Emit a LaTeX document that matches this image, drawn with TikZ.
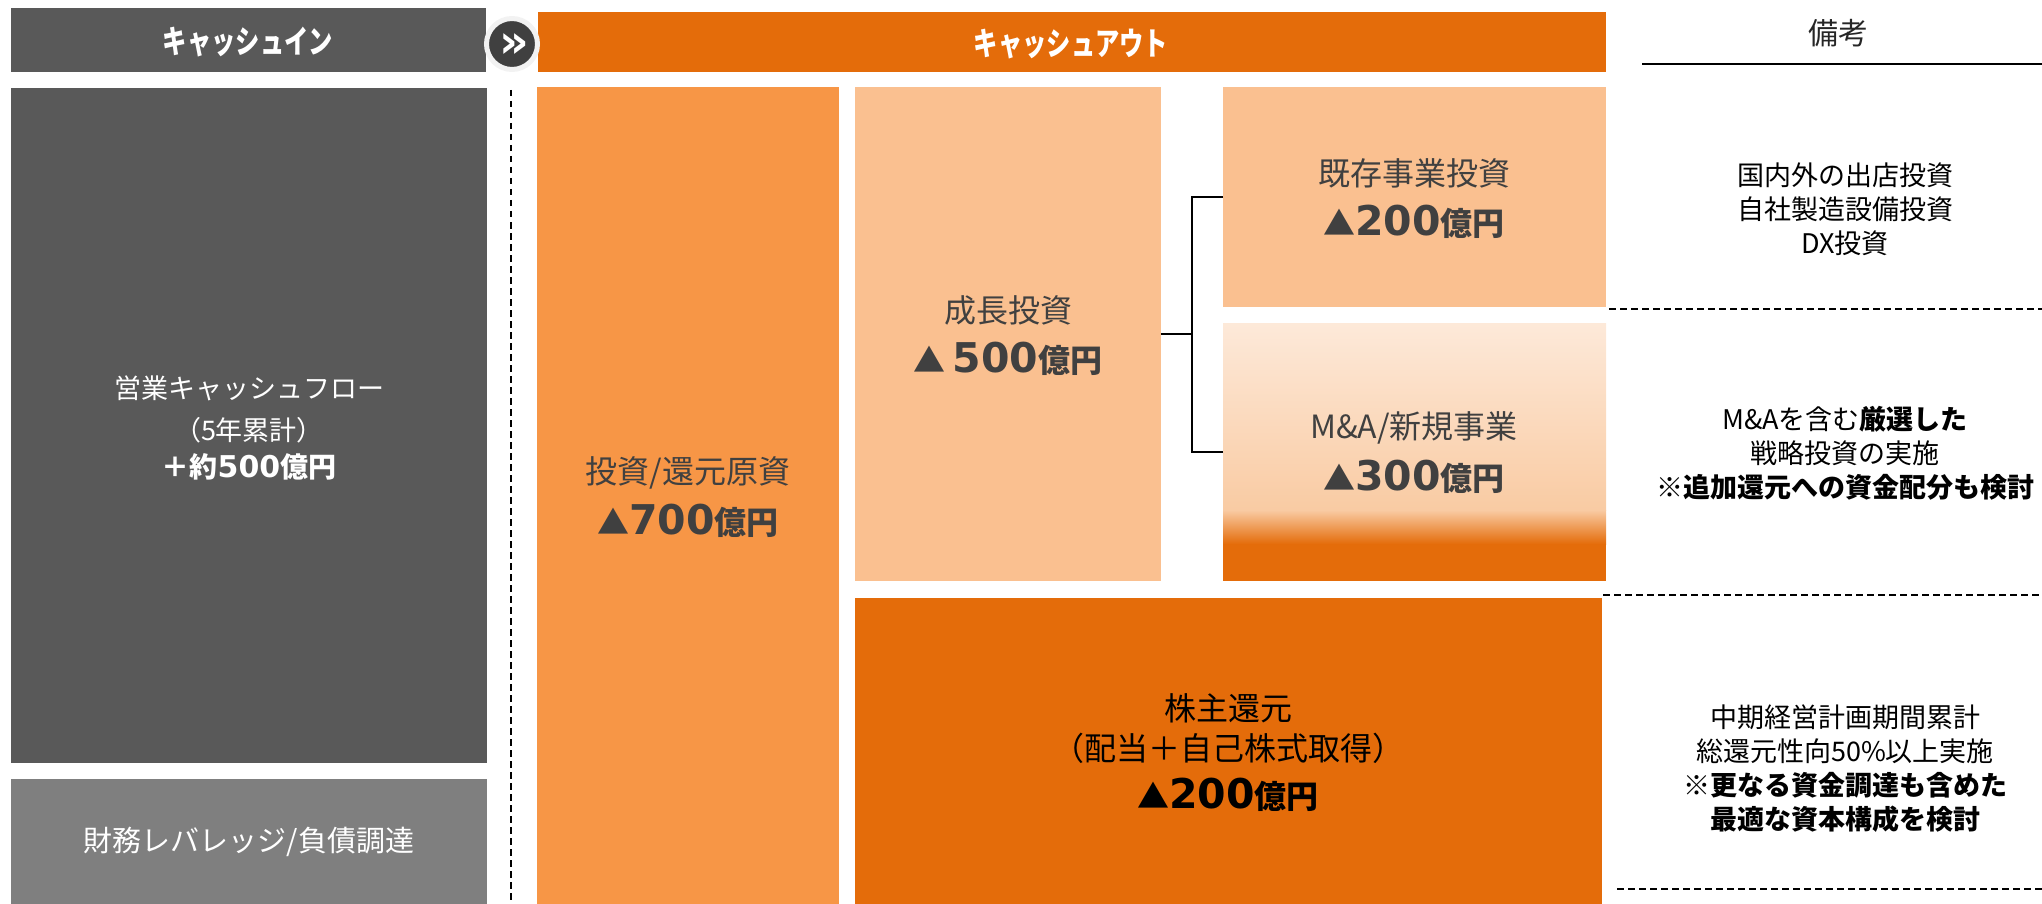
\documentclass[tikz,border=0pt]{standalone}
\usepackage{fontspec}
\setmainfont{Noto Sans CJK JP}
\newfontfamily\dejavu{DejaVu Sans}
\definecolor{dgray}{HTML}{595959}
\definecolor{mgray}{HTML}{7F7F7F}
\definecolor{orgD}{HTML}{E46C0A}
\definecolor{orgM}{HTML}{F79646}
\definecolor{orgL}{HTML}{FAC090}
\definecolor{gradT}{HTML}{FDE9D9}
\definecolor{gradM}{HTML}{F9CBA3}
\definecolor{txtD}{HTML}{404040}
\definecolor{circD}{HTML}{404040}
\definecolor{circR}{HTML}{F2F2F2}
\newcommand\fT{\fontsize{32}{38}\selectfont}
\newcommand\fR{\fontsize{27}{34}\selectfont}
\newcommand\fL{\fontsize{27}{34}\selectfont}
\newcommand\fH{\fontsize{32}{36}\selectfont\bfseries}
\newcommand\amount[2]{{\fontsize{32}{38}\selectfont\bfseries ▲#2}{\dejavu\bfseries\fontsize{41}{48}\selectfont #1}{\fontsize{32}{38}\selectfont\bfseries 億円}}
\begin{document}
\begin{tikzpicture}[x=1pt,y=-1pt,
  blk/.style={inner sep=0pt,outer sep=0pt,draw=none,anchor=north west},
  txt/.style={inner sep=0pt,outer sep=0pt,align=center},
  dashln/.style={black,line width=1.4pt,dash pattern=on 6.5pt off 4.5pt},
  bracket/.style={black,line width=1.5pt}]
\useasboundingbox (0,0) rectangle (2042,904);
% headers
\node[blk,fill=dgray,minimum width=475pt,minimum height=64pt] (hdrIn) at (11,8) {};
\node[blk,fill=orgD,minimum width=1068pt,minimum height=60pt] (hdrOut) at (538,12) {};
\node[txt,text=white] (tIn) at (248,42) {\scalebox{0.76}[1]{\fH キャッシュイン}};
\node[txt,text=white] (tOut) at (1071,44) {\scalebox{0.76}[1]{\fH キャッシュアウト}};
\node[circle,fill=circD,draw=circR,line width=5pt,minimum size=51pt,inner sep=0pt] (arr) at (512,44) {};
\node[txt,text=white,font=\dejavu\bfseries\fontsize{46}{46}\selectfont] (chev) at (514,46) {»};
\node[txt,text=black!85,font=\fontsize{30}{34}\selectfont] (tRem) at (1838,33) {備考};
\coordinate (ul1) at (1642,64);
\coordinate (ul2) at (2042,64);
\draw[black,line width=1.5pt] (ul1) -- (ul2);
% left column
\node[blk,fill=dgray,minimum width=476pt,minimum height=675pt] (opcf) at (11,88) {};
\node[blk,fill=mgray,minimum width=476pt,minimum height=130pt] (debt) at (11,779) {};
\node[txt,text=white,font=\fL] (opcf1) at (249,388) {営業キャッシュフロー};
\node[txt,text=white,font=\fL] (opcf2) at (249,430) {（5年累計）};
\node[txt,text=white,anchor=base] (opcf3) at (249,477) {{\fontsize{28}{34}\selectfont\bfseries ＋約}{\dejavu\bfseries\fontsize{30}{34}\selectfont 500}{\fontsize{28}{34}\selectfont\bfseries 億円}};
\node[txt,text=white,font=\fontsize{29}{34}\selectfont] (debt1) at (249,842) {財務レバレッジ/負債調達};
% dashed separator
\coordinate (vd1) at (511,90);
\coordinate (vd2) at (511,904);
\draw[dashln] (vd1) -- (vd2);
% cash-out boxes
\node[blk,fill=orgM,minimum width=302pt,minimum height=820pt] (inv) at (537,87) {};
\node[blk,fill=orgL,minimum width=306pt,minimum height=494pt] (grow) at (855,87) {};
\node[blk,fill=orgL,minimum width=383pt,minimum height=220pt] (exist) at (1223,87) {};
\shade[top color=gradT,bottom color=gradM] (1223,323) rectangle (1606,510);
\shade[top color=gradM,bottom color=orgD] (1223,510) rectangle (1606,544);
\fill[orgD] (1223,544) rectangle (1606,581);
\node[blk,minimum width=383pt,minimum height=258pt] (ma) at (1223,323) {};
\node[blk,fill=orgD,minimum width=747pt,minimum height=310pt] (share) at (855,598) {};
% box texts
\node[txt,text=txtD,font=\fT] (inv1) at (688,473) {投資/還元原資};
\node[txt,text=txtD,anchor=base] (inv2) at (688,534) {\amount{700}{}};
\node[txt,text=txtD,font=\fT] (grow1) at (1008,310) {成長投資};
\node[txt,text=txtD,anchor=base] (grow2) at (1008,372) {\amount{500}{\ }};
\node[txt,text=txtD,font=\fT] (exist1) at (1414,173) {既存事業投資};
\node[txt,text=txtD,anchor=base] (exist2) at (1414,235) {\amount{200}{}};
\node[txt,text=txtD,font=\fT] (ma1) at (1414,428) {M\&A/新規事業};
\node[txt,text=txtD,anchor=base] (ma2) at (1414,490) {\amount{300}{}};
\node[txt,text=black,font=\fT] (share1) at (1228,708) {株主還元};
\node[txt,text=black,font=\fT] (share2) at (1228,748) {（配当＋自己株式取得）};
\node[txt,text=black,anchor=base] (share3) at (1228,808) {\amount{200}{}};
% bracket
\coordinate (jct) at (1192,334);
\draw[bracket] (grow.east) -- (jct);
\draw[bracket] (exist.west) -| (jct);
\draw[bracket] (ma.west) -| (jct);
% remarks
\node[txt,text=black,font=\fR] (rem1) at (1845,209) {国内外の出店投資\\自社製造設備投資\\DX投資};
\node[txt,text=black,font=\fR] (rem2) at (1845,453.5) {M\&Aを含む\textbf{厳選した}\\戦略投資の実施\\\textbf{※追加還元への資金配分も検討}};
\node[txt,text=black,font=\fR] (rem3) at (1845,769) {中期経営計画期間累計\\総還元性向50\%以上実施\\\textbf{※更なる資金調達も含めた}\\\textbf{最適な資本構成を検討}};
\coordinate (d1a) at (1609,309);
\coordinate (d1b) at (2042,309);
\coordinate (d2a) at (1603,595);
\coordinate (d2b) at (2042,595);
\coordinate (d3a) at (1617,889);
\coordinate (d3b) at (2042,889);
\draw[dashln] (d1a) -- (d1b);
\draw[dashln] (d2a) -- (d2b);
\draw[dashln] (d3a) -- (d3b);
\end{tikzpicture}
\end{document}
